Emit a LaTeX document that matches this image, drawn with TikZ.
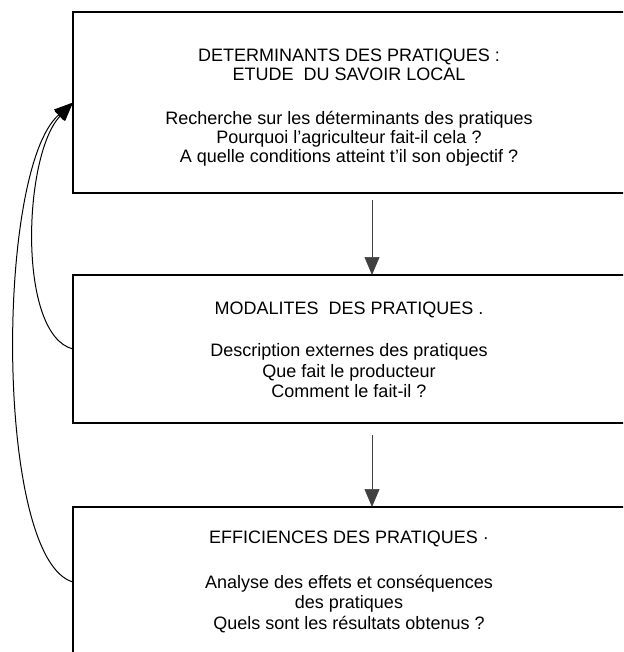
\documentclass[tikz,border=0pt]{standalone}
\usepackage{fontspec}
\setmainfont{Liberation Sans}
\usetikzlibrary{arrows.meta}

\tikzset{
  box/.style={draw=black, line width=1.2pt, rectangle, inner sep=0pt, outer sep=0pt},
  label/.style={align=center, inner sep=0pt, font=\fontsize{18}{20.5}\selectfont},
  flow/.style={draw=black!75, line width=0.7pt, -{Triangle[length=18pt,width=15pt]}},
  back/.style={draw=black, line width=1pt, -{Triangle[length=19pt,width=14pt]}}
}

\begin{document}
\begin{tikzpicture}[x=1pt, y=-1pt]
  \useasboundingbox (0,0) rectangle (623,652);
  \clip (0,0) rectangle (623,652);

  % the three stages (their right side runs past the frame)
  \node[box, minimum width=587pt, minimum height=181pt] (top) at (366.5,102.5) {};
  \node[box, minimum width=587pt, minimum height=148pt] (mid) at (366.5,349) {};
  \node[box, minimum width=587pt, minimum height=150pt] (bot) at (366.5,582) {};

  % texts
  \node[label, font=\fontsize{18}{19}\selectfont] (ttop) at (349,107.5) {DETERMINANTS DES PRATIQUES :\\
    ETUDE\ \ DU SAVOIR LOCAL\\[25pt]
    Recherche sur les déterminants des pratiques\\
    Pourquoi l'agriculteur fait-il cela ?\\
    A quelle conditions atteint t'il son objectif ?};
  \node[label] (tmid) at (349,350) {MODALITES\ \ DES PRATIQUES .\\[22pt]
    Description externes des pratiques\\
    Que fait le producteur\\
    Comment le fait-il ?};
  \node[label] (tbot) at (349,582) {EFFICIENCES DES PRATIQUES ·\\[24pt]
    Analyse des effets et conséquences\\
    des pratiques\\
    Quels sont les résultats obtenus ?};

  % downward flow
  \coordinate (ax) at (372,0);
  \draw[flow, shorten <=7pt] (top.south -| ax) -- (mid.north -| ax);
  \draw[flow, shorten <=12pt] (mid.south -| ax) -- (bot.north -| ax);

  % feedback loops to the first stage
  \draw[back] (mid.west) .. controls +(-56,-14) and +(-50,52.5) .. (top.west);
  \draw[back] (bot.west) .. controls +(-78,-22) and +(-78,67.5) .. (top.west);
\end{tikzpicture}
\end{document}
